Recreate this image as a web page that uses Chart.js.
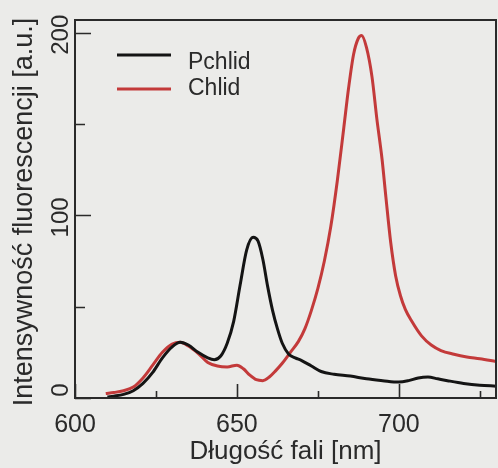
<!DOCTYPE html>
<html>
<head>
<meta charset="utf-8">
<script src="https://cdn.jsdelivr.net/npm/chart.js@4.4.1/dist/chart.umd.min.js"></script>
<style>
  html, body { margin: 0; padding: 0; background: #ebebe9; }
  #wrap { width: 498px; height: 468px; }
</style>
</head>
<body>
<div id="wrap"><canvas id="chart" width="498" height="468"></canvas></div>
<script>
// wavelength [nm] and fluorescence intensity [a.u.]
const pchlidNm = [610, 612, 615, 618, 621, 624, 627, 630, 632.5, 635, 638, 641, 643, 645, 647, 649, 651, 653, 655, 656.5, 658, 659.5, 661, 662.5, 664, 666, 668, 670, 673, 676, 680, 685, 690, 695, 700, 703, 706, 709, 712, 715, 720, 725, 730];
const pchlidVal = [0.5, 1, 2, 4, 8, 14, 22, 28, 30.5, 29, 25, 22, 21, 23, 30, 42, 62, 81, 88, 86, 76, 61, 48, 38, 30, 24, 22, 20.5, 17.5, 14.5, 13, 12, 10.5, 9.5, 8.7, 9.5, 11, 11.5, 10.5, 9.5, 8, 7, 6.5];

const chlidNm = [609.5, 612, 615, 618, 621, 624, 627, 630, 632.5, 635, 638, 641, 644, 647, 650, 652, 654, 656, 658, 660, 662, 664, 666.5, 669, 671, 673, 675, 677, 679, 681, 683, 684.5, 686, 687.5, 688.5, 690, 691.7, 693.2, 694.8, 696, 697.5, 699, 700.5, 702, 704, 707, 710, 713, 717, 721, 725, 730];
const chlidVal = [2.5, 3, 4, 6, 11, 18, 25, 29.5, 30.5, 28.5, 24.5, 19.5, 17.5, 17, 18, 16, 12.5, 10, 9.5, 11.5, 15, 19, 25, 31, 38, 48, 60, 75, 94, 119, 148, 170, 188, 197, 198.5, 192, 176, 153, 131, 110, 85, 67, 56, 48.5, 42, 34, 29, 26, 24, 22.5, 21.5, 20];

const seriesNames = ["Pchlid", "Chlid"];
const seriesColors = ["#141414", "#c33a3a"];

const xMajorTicks = [600, 650, 700];
const xMinorTicks = [625, 675, 725];
const yMajorTicks = [0, 100, 200];
const yMinorTicks = [50, 150];

const xTitle = "Długość fali [nm]";
const yTitle = "Intensywność fluorescencji [a.u.]";

const FONT = '"Liberation Sans", Arial, Helvetica, sans-serif';
const TEXT = "#2a2a2a";

function toPoints(xs, ys) {
  return xs.map((x, i) => ({ x, y: ys[i] }));
}

const axesPlugin = {
  id: "axesPlugin",
  beforeDraw(chart) {
    const { ctx, width, height } = chart;
    ctx.save();
    ctx.fillStyle = "#ebebe9";
    ctx.fillRect(0, 0, width, height);
    ctx.restore();
  },
  afterDraw(chart) {
    const { ctx, chartArea: a } = chart;
    const xs = chart.scales.x;
    const ys = chart.scales.y;
    ctx.save();

    // frame
    ctx.strokeStyle = "#2a2a2a";
    ctx.lineWidth = 2;
    ctx.strokeRect(a.left, a.top, a.right - a.left, a.bottom - a.top);

    // inward ticks
    ctx.lineWidth = 1.6;
    ctx.beginPath();
    xMajorTicks.forEach((v) => {
      const px = Math.round(xs.getPixelForValue(v)) + 0.5;
      ctx.moveTo(px, a.bottom); ctx.lineTo(px, a.bottom - 14);
    });
    xMinorTicks.forEach((v) => {
      const px = Math.round(xs.getPixelForValue(v)) + 0.5;
      ctx.moveTo(px, a.bottom); ctx.lineTo(px, a.bottom - 7);
    });
    yMajorTicks.forEach((v) => {
      const py = Math.round(ys.getPixelForValue(v)) + 0.5;
      ctx.moveTo(a.left, py); ctx.lineTo(a.left + 16, py);
    });
    yMinorTicks.forEach((v) => {
      const py = Math.round(ys.getPixelForValue(v)) + 0.5;
      ctx.moveTo(a.left, py); ctx.lineTo(a.left + 10, py);
    });
    ctx.stroke();

    // tick labels
    ctx.fillStyle = TEXT;
    ctx.textBaseline = "alphabetic";
    ctx.textAlign = "center";
    ctx.font = `25px ${FONT}`;
    xMajorTicks.forEach((v) => {
      ctx.fillText(String(v), xs.getPixelForValue(v), a.bottom + 34);
    });

    ctx.font = `24px ${FONT}`;
    yMajorTicks.forEach((v) => {
      ctx.save();
      ctx.translate(a.left - 7, ys.getPixelForValue(v) + (v === 0 ? -8 : 2));
      ctx.rotate(-Math.PI / 2);
      ctx.fillText(String(v), 0, 0);
      ctx.restore();
    });

    // axis titles
    ctx.font = `26px ${FONT}`;
    ctx.fillText(xTitle, (a.left + a.right) / 2, a.bottom + 61);

    ctx.save();
    ctx.translate(32, (a.top + a.bottom) / 2 + 3);
    ctx.rotate(-Math.PI / 2);
    ctx.font = `27px ${FONT}`;
    ctx.fillText(yTitle, 0, 0);
    ctx.restore();

    // legend
    const lineY = [55, 89];
    const textY = [69, 95];
    chart.data.datasets.forEach((ds, i) => {
      ctx.strokeStyle = ds.borderColor;
      ctx.lineWidth = 3;
      ctx.beginPath();
      ctx.moveTo(117, lineY[i]);
      ctx.lineTo(171, lineY[i]);
      ctx.stroke();
      ctx.fillStyle = TEXT;
      ctx.textAlign = "left";
      ctx.font = `23px ${FONT}`;
      ctx.fillText(ds.label, 188, textY[i]);
    });

    ctx.restore();
  },
};

new Chart(document.getElementById("chart"), {
  type: "line",
  data: {
    datasets: [
      {
        label: seriesNames[0],
        data: toPoints(pchlidNm, pchlidVal),
        borderColor: seriesColors[0],
        borderWidth: 3,
        pointRadius: 0,
        cubicInterpolationMode: "monotone",
      },
      {
        label: seriesNames[1],
        data: toPoints(chlidNm, chlidVal),
        borderColor: seriesColors[1],
        borderWidth: 3,
        pointRadius: 0,
        cubicInterpolationMode: "monotone",
      },
    ],
  },
  options: {
    responsive: false,
    animation: false,
    events: [],
    layout: { padding: { left: 75, top: 20, right: 2, bottom: 70 } },
    plugins: {
      legend: { display: false },
      tooltip: { enabled: false },
    },
    scales: {
      x: { type: "linear", min: 600, max: 730, display: false },
      y: { type: "linear", min: 0, max: 207, display: false },
    },
  },
  plugins: [axesPlugin],
});
</script>
</body>
</html>
